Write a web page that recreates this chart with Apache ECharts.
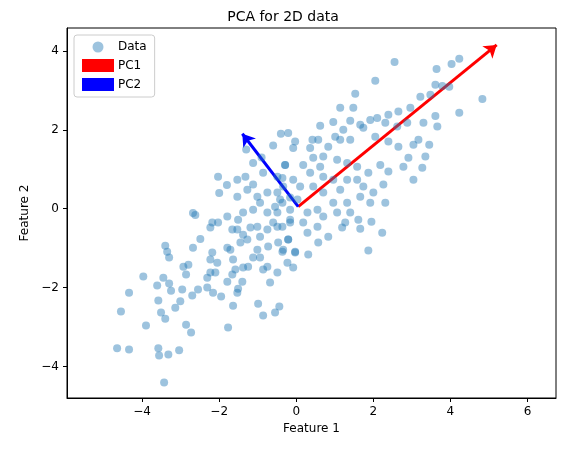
<!DOCTYPE html>
<html>
<head>
<meta charset="utf-8">
<script src="https://cdn.jsdelivr.net/npm/echarts@6/dist/echarts.min.js"></script>
<style>html,body{margin:0;padding:0;background:#fff}#chart{width:566px;height:453px}</style>
</head>
<body>
<div id="chart"></div>
<script>
// scatter points [feature1, feature2]
var points = [
	[-3.43,-4.41],[-4.65,-3.54],[-4.34,-3.57],[-3.58,-3.54],[-3.56,-3.72],[-3.32,-3.70],[-3.04,-3.59],
	[-3.90,-2.96],[-4.55,-2.61],[-4.34,-2.13],[-3.97,-1.72],[-3.58,-2.33],[-3.51,-2.63],[-3.40,-2.79],
	[-3.61,-1.95],[-3.45,-1.75],[-3.30,-1.90],[-3.25,-2.08],[-3.14,-2.51],[-3.01,-2.35],[-2.86,-2.94],
	[-2.73,-3.14],[-2.96,-2.05],[-2.70,-2.20],[-2.55,-2.05],[-3.40,-0.94],[-3.35,-1.09],[-3.30,-1.24],
	[-2.93,-1.47],[-2.80,-1.42],[-2.86,-1.67],[-2.68,-0.99],[-2.49,-0.77],[-2.68,-0.11],[-2.62,-0.16],
	[-2.03,0.81],[-1.77,-3.01],[-1.64,-2.46],[-0.99,-2.41],[-0.86,-2.71],[-0.55,-2.63],[-0.44,-2.48],
	[-2.31,-2.00],[-2.16,-2.13],[-1.95,-2.23],[-1.53,-2.13],[-1.51,-2.03],[-1.40,-1.85],[-1.79,-1.85],
	[-2.23,-1.62],[-2.10,-1.62],[-2.31,-1.75],[-2.18,-1.11],[-2.23,-1.29],[-2.05,-1.37],[-2.23,-0.48],
	[-2.18,-0.35],[-2.03,-0.35],[-1.79,-0.20],[-1.66,-0.53],[-1.53,-0.53],[-1.79,-0.99],[-1.71,-1.04],
	[-1.64,-1.29],[-1.66,-1.67],[-1.58,-1.54],[-1.38,-1.49],[-1.25,-1.47],[-1.12,-1.24],[-0.94,-1.24],
	[-0.86,-1.54],[-0.75,-1.47],[-0.49,-1.62],[-0.23,-1.37],[-0.08,-1.49],[-0.68,-1.87],[-1.45,-0.86],
	[-1.27,-0.78],[-1.01,-1.04],[-0.73,-0.96],[-0.47,-0.86],[-0.21,-0.78],[-0.03,-1.11],[-0.36,-1.09],
	[-1.51,-0.28],[-1.38,-0.66],[-1.19,-0.48],[-1.01,-0.46],[-0.94,-0.71],[-0.75,-0.53],[-0.60,-0.35],
	[-0.36,-0.46],[-0.16,-0.35],[-1.38,-0.10],[-1.12,-0.03],[-0.94,0.15],[-0.75,-0.10],[-0.49,-0.10],
	[-0.36,0.15],[-0.16,-0.03],[-1.53,0.30],[-1.27,0.48],[-1.12,0.61],[-1.01,0.30],[-0.86,0.91],
	[-0.75,0.41],[-0.49,0.41],[-0.36,0.78],[-0.29,1.11],[-1.12,1.16],[-1.53,0.73],[-1.32,0.81],
	[-0.08,0.73],[0.03,0.23],[-1.3,1.5],[-0.9,1.3],[-0.6,1.6],[-0.4,1.9],[-2.0,0.4],[-1.8,0.6],
	[2.55,3.72],[3.64,3.54],[4.03,3.67],[4.23,3.80],[2.05,3.24],[3.61,3.14],[3.79,3.11],[3.97,3.09],
	[4.83,2.78],[4.23,2.43],[1.53,2.91],[1.14,2.56],[1.48,2.56],[0.96,2.20],[0.62,2.10],[-0.21,1.92],
	[1.40,2.23],[1.92,2.25],[2.10,2.30],[2.39,2.38],[2.65,2.46],[2.96,2.56],[3.22,2.84],[3.48,2.89],
	[3.61,2.35],[3.66,2.08],[3.30,2.18],[2.88,2.18],[2.62,2.08],[2.31,2.18],[1.66,2.13],[1.74,2.05],
	[1.22,2.00],[1.01,1.82],[0.42,1.75],[-0.03,1.70],[-0.08,1.54],[0.36,1.54],[0.57,1.75],[0.83,1.57],
	[1.14,1.75],[1.40,1.75],[2.05,1.82],[2.39,1.70],[2.65,1.57],[3.04,1.62],[3.17,1.75],[3.45,1.62],
	[3.35,1.32],[2.91,1.29],[2.78,1.06],[3.27,1.04],[3.04,0.73],[2.39,0.94],[2.18,1.11],[2.26,0.61],
	[2.31,0.15],[2.00,0.41],[1.92,0.15],[1.66,0.30],[1.61,-0.28],[1.95,-0.33],[2.23,-0.61],[1.66,-0.51],
	[1.87,-1.06],[1.27,-0.35],[1.19,-0.48],[0.83,-0.71],[0.57,-0.86],[0.31,-1.16],[0.29,-0.61],
	[-0.03,-1.09],[-0.34,-1.04],[-0.21,-0.78],[1.32,0.15],[1.14,0.48],[0.96,0.73],[1.32,0.73],
	[1.58,0.73],[1.74,0.56],[1.87,0.91],[1.58,1.06],[1.32,1.16],[1.06,1.24],[0.70,1.32],[0.44,1.29],
	[0.18,1.11],[0.62,1.06],[0.36,0.91],[0.70,0.81],[0.44,0.56],[0.10,0.56],[-0.34,0.56],[-0.49,0.81],
	[-0.29,1.11],[0.70,0.41],[0.96,0.15],[0.55,-0.03],[0.29,-0.10],[0.70,-0.20],[1.06,-0.10],[1.40,-0.10],
	[0.18,-0.35],[0.55,-0.46],[-0.16,-0.28],[-0.49,-0.46],[-0.42,0.23],[-0.55,0.05],[-0.16,0.28]
];

// principal axis arrows, from mean to tip
var pcOrigin = [0.05, 0.05];
var pc1Tip = [5.2, 4.15];
var pc2Tip = [-1.4, 1.9];

var xTicks = [-4, -2, 0, 2, 4, 6];
var yTicks = [-4, -2, 0, 2, 4];

var chart = echarts.init(document.getElementById('chart'));

function makeAxis(ticks, extra) {
	return Object.assign({
		type: 'value',
		splitLine: { show: false },
		axisLine: { onZero: false, lineStyle: { color: '#000', width: 1 } },
		axisTick: { inside: false, length: 4, lineStyle: { color: '#000' }, customValues: ticks },
		axisLabel: { color: '#000', fontSize: 12, fontFamily: 'DejaVu Sans', customValues: ticks,
			formatter: function(v) { return String(v).replace('-', '\u2212'); } },
		nameLocation: 'middle',
		nameTextStyle: { color: '#000', fontSize: 12, fontFamily: 'DejaVu Sans' }
	}, extra);
}

option = {
	animation: false,
	title: {
		text: 'PCA for 2D data',
		left: 'center',
		top: 5,
		textStyle: { fontSize: 14, fontWeight: 'normal', color: '#000', fontFamily: 'DejaVu Sans' }
	},
	grid: { left: 67, right: 10, top: 28, bottom: 55, show: true, borderColor: '#000', borderWidth: 1 },
	xAxis: makeAxis(xTicks, { min: -5.95, max: 6.74, name: 'Feature 1', nameGap: 25 }),
	yAxis: makeAxis(yTicks, { min: -4.8, max: 4.58, name: 'Feature 2', nameGap: 30 }),
	legend: {
		left: 74, top: 35, orient: 'vertical', itemGap: 6, itemWidth: 30, itemHeight: 11,
		borderColor: '#ccc', borderWidth: 1, borderRadius: 3, padding: [6, 8],
		textStyle: { fontSize: 12, fontFamily: 'DejaVu Sans', color: '#000' },
		data: [
			{ name: 'Data', icon: 'circle' },
			{ name: 'PC1', icon: 'rect' },
			{ name: 'PC2', icon: 'rect' }
		]
	},
	series: [{
		name: 'Data',
		type: 'scatter',
		symbolSize: 8,
		itemStyle: { color: 'rgba(31,119,180,0.55)' },
		data: points
	}, {
		name: 'PC1',
		type: 'lines',
		coordinateSystem: 'cartesian2d',
		symbol: ['none', 'arrow'],
		symbolSize: 12,
		itemStyle: { color: '#ff0000' },
		lineStyle: { color: '#ff0000', width: 3, opacity: 1 },
		data: [{ coords: [pcOrigin, pc1Tip] }]
	}, {
		name: 'PC2',
		type: 'lines',
		coordinateSystem: 'cartesian2d',
		symbol: ['none', 'arrow'],
		symbolSize: 12,
		itemStyle: { color: '#0000ff' },
		lineStyle: { color: '#0000ff', width: 3, opacity: 1 },
		data: [{ coords: [pcOrigin, pc2Tip] }]
	}]
};
chart.setOption(option);
</script>
</body>
</html>
